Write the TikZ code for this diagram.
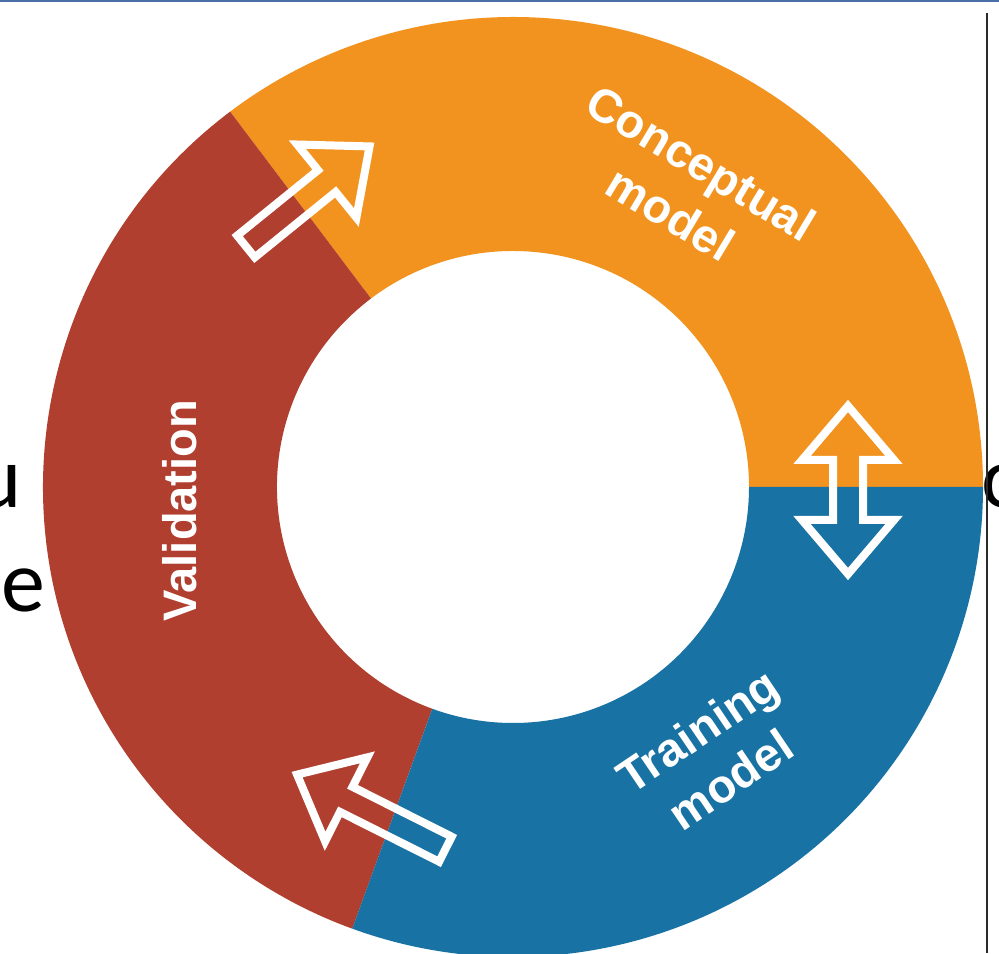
\documentclass[tikz,border=0pt]{standalone}
\usepackage{fontspec}
\setmainfont{Liberation Sans}
\newfontfamily\slidefont{Carlito}
\definecolor{ringorange}{HTML}{F2931F}
\definecolor{ringred}{HTML}{B03F30}
\definecolor{ringblue}{HTML}{1872A3}
\definecolor{topline}{HTML}{4A6EA6}
\definecolor{sideline}{HTML}{2A2A2A}
\begin{document}
\begin{tikzpicture}[x=0.5pt,y=0.5pt,
  seglabel/.style={text=white,font=\bfseries\fontsize{23.5}{29.5}\selectfont,align=center,inner sep=0pt},
  arrowline/.style={draw=white,line width=4pt,line join=miter,miter limit=10},
  slidetext/.style={font=\slidefont\fontsize{44}{53}\selectfont,inner sep=0pt,anchor=base west,text=black}]
\useasboundingbox (0,0) rectangle (999,953);
% background slide remnants
\node[slidetext] (u) at (-25,445) {u};
\node[slidetext] (e) at (1,342) {e};
\node[slidetext] (o) at (981,445) {o};
\fill[topline] (0,950.5) rectangle (999,953);
\draw[sideline,line width=1pt] (987,0) -- (987,940);
% ring picture
\coordinate (C) at (513,466);
\begin{scope}
\clip (0,0) rectangle (983,939);
\fill[ringorange] ([shift={(0:470)}]C) arc[start angle=0,end angle=127,radius=470]
  -- ([shift={(127:236)}]C) arc[start angle=127,end angle=0,radius=236] -- cycle;
\fill[ringred] ([shift={(127:470)}]C) arc[start angle=127,end angle=250,radius=470]
  -- ([shift={(250:236)}]C) arc[start angle=250,end angle=127,radius=236] -- cycle;
\fill[ringblue] ([shift={(250:470)}]C) arc[start angle=250,end angle=360,radius=470]
  -- ([shift={(360:236)}]C) arc[start angle=360,end angle=250,radius=236] -- cycle;
% arrows
\draw[arrowline,shift={(246,706.5)},rotate=39]
  (0,14) -- (104,14) -- (104,47) -- (159,0) -- (104,-47) -- (104,-14) -- (0,-14) -- cycle;
\draw[arrowline,shift={(445.4,103.8)},rotate=153.3]
  (0,14) -- (111,14) -- (111,47) -- (166,0) -- (111,-47) -- (111,-14) -- (0,-14) -- cycle;
\draw[arrowline,shift={(848,463)}]
  (0,84) -- (46,30) -- (15,30) -- (15,-30) -- (46,-30) -- (0,-84) -- (-46,-30) -- (-15,-30) -- (-15,30) -- (-46,30) -- cycle;
% labels
\node[seglabel,rotate=-31] (concept) at (686,765) {Conceptual\\model};
\node[seglabel,rotate=34] (train) at (714,198) {Training\\model};
\node[seglabel,rotate=90] (valid) at (180,442) {Validation};
\end{scope}
\end{tikzpicture}
\end{document}
